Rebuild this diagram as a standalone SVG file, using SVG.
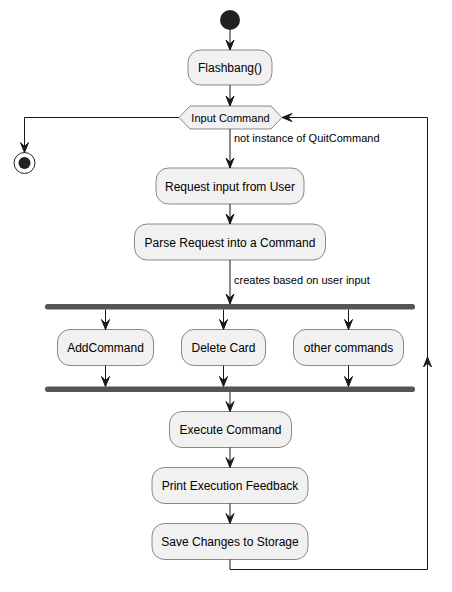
<svg xmlns="http://www.w3.org/2000/svg" width="452" height="592" viewBox="0 0 452 592">
<style>
.node{fill:#F1F1F1;stroke:#181818;stroke-width:0.5}
.t{font-family:"Liberation Sans",Arial,sans-serif;font-size:12px;fill:#000;text-anchor:middle}
.lbl{font-family:"Liberation Sans",Arial,sans-serif;font-size:11px;fill:#000}
.ln{fill:none;stroke:#181818;stroke-width:1}
.bar{fill:#555555}
.ah{fill:#181818;stroke:#181818;stroke-width:1}
</style>
<defs>
<polygon id="ad" points="-4,-10 0,0 4,-10 0,-6"/>
</defs>
<rect width="452" height="592" fill="#FFFFFF"/>
<g id="start"><circle cx="230" cy="20" r="10" fill="#222222"/></g>
<g id="stop"><circle cx="24.5" cy="163" r="10.5" fill="none" stroke="#222222" stroke-width="1"/><circle cx="24.5" cy="163" r="6" fill="#222222"/></g>
<g id="flashbang"><rect class="node" x="188" y="50" width="84" height="35" rx="12.5"/><text class="t" x="230" y="72">Flashbang()</text></g>
<g id="input"><polygon class="node" points="179,117.5 190,106 271,106 282,117.5 271,129 190,129"/><text class="t" style="font-size:11px" x="230.5" y="121.5">Input Command</text></g>
<g id="request"><rect class="node" x="156" y="168" width="148" height="36" rx="12.5"/><text class="t" x="230" y="190.5">Request input from User</text></g>
<g id="parse"><rect class="node" x="134.5" y="224" width="191" height="36" rx="12.5"/><text class="t" x="230" y="246.5">Parse Request into a Command</text></g>
<g id="fork"><rect class="bar" x="45" y="304" width="370" height="5.5" rx="2.5"/></g>
<g id="add"><rect class="node" x="57.5" y="329.5" width="96" height="36" rx="12.5"/><text class="t" x="105.5" y="352">AddCommand</text></g>
<g id="delete"><rect class="node" x="181.5" y="329.5" width="84" height="36" rx="12.5"/><text class="t" x="223.5" y="352">Delete Card</text></g>
<g id="other"><rect class="node" x="293.5" y="329.5" width="110" height="36" rx="12.5"/><text class="t" x="348.5" y="352">other commands</text></g>
<g id="join"><rect class="bar" x="45" y="386.5" width="370" height="5.5" rx="2.5"/></g>
<g id="execute"><rect class="node" x="169.5" y="411.5" width="122" height="36" rx="12.5"/><text class="t" x="230.5" y="434">Execute Command</text></g>
<g id="print"><rect class="node" x="152" y="467.5" width="156" height="36" rx="12.5"/><text class="t" x="230" y="490">Print Execution Feedback</text></g>
<g id="save"><rect class="node" x="152" y="523.5" width="156" height="36" rx="12.5"/><text class="t" x="230" y="546">Save Changes to Storage</text></g>
<g id="connectors">
<path class="ln" d="M230,30 V50"/><use href="#ad" class="ah" x="230" y="50"/>
<path class="ln" d="M230,85 V106"/><use href="#ad" class="ah" x="230" y="106"/>
<path class="ln" d="M179,117.5 H24.5 V152.5"/><use href="#ad" class="ah" x="24.5" y="152.5"/>
<path class="ln" d="M230,129 V168"/><use href="#ad" class="ah" x="230" y="168"/>
<text class="lbl" x="234" y="141.5">not instance of QuitCommand</text>
<path class="ln" d="M230,204 V224"/><use href="#ad" class="ah" x="230" y="224"/>
<path class="ln" d="M230,260 V304"/><use href="#ad" class="ah" x="230" y="304"/>
<text class="lbl" x="234" y="284">creates based on user input</text>
<path class="ln" d="M105.5,309.5 V329.5"/><use href="#ad" class="ah" x="105.5" y="329.5"/>
<path class="ln" d="M223.5,309.5 V329.5"/><use href="#ad" class="ah" x="223.5" y="329.5"/>
<path class="ln" d="M348.5,309.5 V329.5"/><use href="#ad" class="ah" x="348.5" y="329.5"/>
<path class="ln" d="M105.5,365.5 V386.5"/><use href="#ad" class="ah" x="105.5" y="386.5"/>
<path class="ln" d="M223.5,365.5 V386.5"/><use href="#ad" class="ah" x="223.5" y="386.5"/>
<path class="ln" d="M348.5,365.5 V386.5"/><use href="#ad" class="ah" x="348.5" y="386.5"/>
<path class="ln" d="M230,392 V411.5"/><use href="#ad" class="ah" x="230" y="411.5"/>
<path class="ln" d="M230,447.5 V467.5"/><use href="#ad" class="ah" x="230" y="467.5"/>
<path class="ln" d="M230,503.5 V523.5"/><use href="#ad" class="ah" x="230" y="523.5"/>
<path class="ln" d="M230,559.5 V569.5 H427.5 V117.5 H282"/>
<use href="#ad" class="ah" transform="translate(427.5,357) rotate(180)"/>
<use href="#ad" class="ah" transform="translate(282,117.5) rotate(90)"/>
</g>
</svg>
